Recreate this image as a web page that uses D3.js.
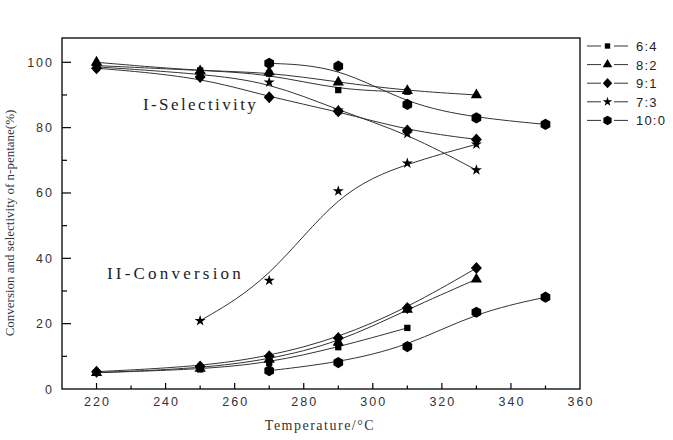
<!DOCTYPE html>
<html>
<head>
<meta charset="utf-8">
<script src="https://cdn.jsdelivr.net/npm/d3@7"></script>
<style>
  body { margin: 0; background: #fff; }
</style>
</head>
<body>
<div id="chart"></div>
<script>
// series names (legend order)
var seriesNames = ["6:4", "8:2", "9:1", "7:3", "10:0"];

// temperatures per series
var temp64 = [220, 250, 270, 290, 310];
var temp82 = [220, 250, 270, 290, 310, 330];
var temp91 = [220, 250, 270, 290, 310, 330];
var temp73sel = [220, 250, 270, 290, 310, 330];
var temp73conv = [250, 270, 290, 310, 330];
var temp100 = [270, 290, 310, 330, 350];

// I - selectivity
var sel64 = [99, 97.5, 96.5, 91.5, 91];
var sel82 = [100, 97.3, 97, 93.9, 91.3, 90];
var sel91 = [98.2, 95.5, 89.3, 85, 79.1, 76.4];
var sel73 = [98.6, 96.5, 93.9, 85.3, 78.2, 67];
var sel100 = [99.7, 98.8, 87.1, 83, 81];

// II - conversion
var conv64 = [5, 6, 8, 12.8, 18.7];
var conv82 = [5, 6.3, 9, 14.2, 24.3, 33.6];
var conv91 = [5.3, 6.9, 10, 15.6, 24.8, 37];
var conv73 = [20.9, 33.2, 60.6, 69.1, 74.9];
var conv100 = [5.6, 8.1, 13, 23.5, 28.1];

var xTicks = [220, 240, 260, 280, 300, 320, 340, 360];
var yTicks = [0, 20, 40, 60, 80, 100];

var svgWidth = 673, svgHeight = 440;
var plotLeft = 62, plotRight = 580, plotTop = 38, plotBottom = 389;

var svg = d3.select("#chart").append("svg")
    .attr("width", svgWidth)
    .attr("height", svgHeight);

var x = d3.scaleLinear().domain([210, 360]).range([plotLeft, plotRight]);
var y = d3.scaleLinear().domain([0, 100]).range([plotBottom, 62.3]);

// hexagon marker
function hexagon(r) {
  var p = d3.path();
  for (var i = 0; i < 6; i++) {
    var a = Math.PI / 6 + i * Math.PI / 3;
    var px = r * Math.cos(a), py = r * Math.sin(a);
    if (i == 0) p.moveTo(px, py); else p.lineTo(px, py);
  }
  p.closePath();
  return p.toString();
}

var markers = {
  "6:4": d3.symbol().type(d3.symbolSquare).size(40)(),
  "8:2": d3.symbol().type(d3.symbolTriangle).size(55)(),
  "9:1": "M0,-6L5.5,0L0,6L-5.5,0Z",
  "7:3": d3.symbol().type(d3.symbolStar).size(38)(),
  "10:0": hexagon(5.6)
};

var groups = [
  {name: "6:4", t: temp64, v: sel64},
  {name: "8:2", t: temp82, v: sel82},
  {name: "9:1", t: temp91, v: sel91},
  {name: "7:3", t: temp73sel, v: sel73},
  {name: "10:0", t: temp100, v: sel100},
  {name: "6:4", t: temp64, v: conv64},
  {name: "8:2", t: temp82, v: conv82},
  {name: "9:1", t: temp91, v: conv91},
  {name: "7:3", t: temp73conv, v: conv73},
  {name: "10:0", t: temp100, v: conv100}
];

var line = d3.line()
    .x(d => x(d[0]))
    .y(d => y(d[1]))
    .curve(d3.curveBasis);

// lines
groups.forEach(function(g) {
  var pts = g.t.map((t, i) => [t, g.v[i]]);
  svg.append("path")
      .attr("d", line(pts))
      .attr("fill", "none")
      .attr("stroke", "#333")
      .attr("stroke-width", 1);
});

// markers
groups.forEach(function(g) {
  svg.append("g").selectAll("path")
    .data(g.t.map((t, i) => [t, g.v[i]]))
    .enter().append("path")
      .attr("d", markers[g.name])
      .attr("transform", d => `translate(${x(d[0])},${y(d[1])})`)
      .attr("fill", "#000");
});

// frame
svg.append("rect")
    .attr("x", plotLeft).attr("y", plotTop)
    .attr("width", plotRight - plotLeft).attr("height", plotBottom - plotTop)
    .attr("fill", "none").attr("stroke", "#000").attr("stroke-width", 1.3);

// x ticks (inside)
var xMinor = d3.range(230, 360, 20);
svg.append("g").selectAll("line").data(xTicks.filter(d => d < 360)).enter().append("line")
    .attr("x1", d => x(d)).attr("x2", d => x(d))
    .attr("y1", plotBottom).attr("y2", plotBottom - 6)
    .attr("stroke", "#000").attr("stroke-width", 1.2);
svg.append("g").selectAll("line").data(xMinor).enter().append("line")
    .attr("x1", d => x(d)).attr("x2", d => x(d))
    .attr("y1", plotBottom).attr("y2", plotBottom - 3.5)
    .attr("stroke", "#000").attr("stroke-width", 1.2);
svg.append("g").selectAll("text").data(xTicks).enter().append("text")
    .attr("x", d => x(d) + 1)
    .attr("y", 406)
    .attr("text-anchor", "middle")
    .attr("font-family", "Liberation Sans, Arial, sans-serif")
    .attr("font-size", 12.5)
    .attr("letter-spacing", 2)
    .attr("fill", "#333")
    .text(d => d);

// y ticks (inside)
var yMinor = d3.range(10, 101, 20);
svg.append("g").selectAll("line").data(yTicks.filter(d => d > 0)).enter().append("line")
    .attr("x1", plotLeft).attr("x2", plotLeft + 9)
    .attr("y1", d => y(d)).attr("y2", d => y(d))
    .attr("stroke", "#000").attr("stroke-width", 1.2);
svg.append("g").selectAll("line").data(yMinor).enter().append("line")
    .attr("x1", plotLeft).attr("x2", plotLeft + 5)
    .attr("y1", d => y(d)).attr("y2", d => y(d))
    .attr("stroke", "#000").attr("stroke-width", 1.2);
svg.append("g").selectAll("text").data(yTicks).enter().append("text")
    .attr("x", 54)
    .attr("y", d => y(d) + 4.5)
    .attr("text-anchor", "end")
    .attr("font-family", "Liberation Sans, Arial, sans-serif")
    .attr("font-size", 12.5)
    .attr("letter-spacing", 2)
    .attr("fill", "#333")
    .text(d => d);

// axis titles
svg.append("text")
    .attr("transform", "translate(14,223) rotate(-90)")
    .attr("text-anchor", "middle")
    .attr("font-family", "Liberation Serif, Times New Roman, serif")
    .attr("font-size", 13)
    .attr("fill", "#333")
    .text("Conversion and selectivity of n-pentane(%)");

svg.append("text")
    .attr("x", 320).attr("y", 430)
    .attr("text-anchor", "middle")
    .attr("font-family", "Liberation Serif, Times New Roman, serif")
    .attr("font-size", 14)
    .attr("letter-spacing", 1.5)
    .attr("fill", "#333")
    .text("Temperature/°C");

// curve labels
svg.append("text")
    .attr("x", 143).attr("y", 110)
    .attr("font-family", "Liberation Serif, Times New Roman, serif")
    .attr("font-size", 17)
    .attr("letter-spacing", 2.4)
    .attr("fill", "#222")
    .text("I-Selectivity");
svg.append("text")
    .attr("x", 107).attr("y", 279)
    .attr("font-family", "Liberation Serif, Times New Roman, serif")
    .attr("font-size", 17)
    .attr("letter-spacing", 3.2)
    .attr("fill", "#222")
    .text("II-Conversion");

// legend
var legend = svg.append("g").selectAll("g").data(seriesNames).enter().append("g")
    .attr("transform", (d, i) => `translate(0,${46 + i * 18.6})`);
legend.append("line")
    .attr("x1", 587).attr("x2", 601).attr("y1", 0).attr("y2", 0)
    .attr("stroke", "#333");
legend.append("line")
    .attr("x1", 614).attr("x2", 628).attr("y1", 0).attr("y2", 0)
    .attr("stroke", "#333");
legend.append("path")
    .attr("d", d => markers[d])
    .attr("transform", "translate(607.5,0) scale(0.85)")
    .attr("fill", "#000");
legend.append("text")
    .attr("x", 636).attr("y", 5)
    .attr("font-family", "Liberation Sans, Arial, sans-serif")
    .attr("font-size", 13)
    .attr("letter-spacing", 1.2)
    .attr("fill", "#222")
    .text(d => d);
</script>
</body>
</html>
